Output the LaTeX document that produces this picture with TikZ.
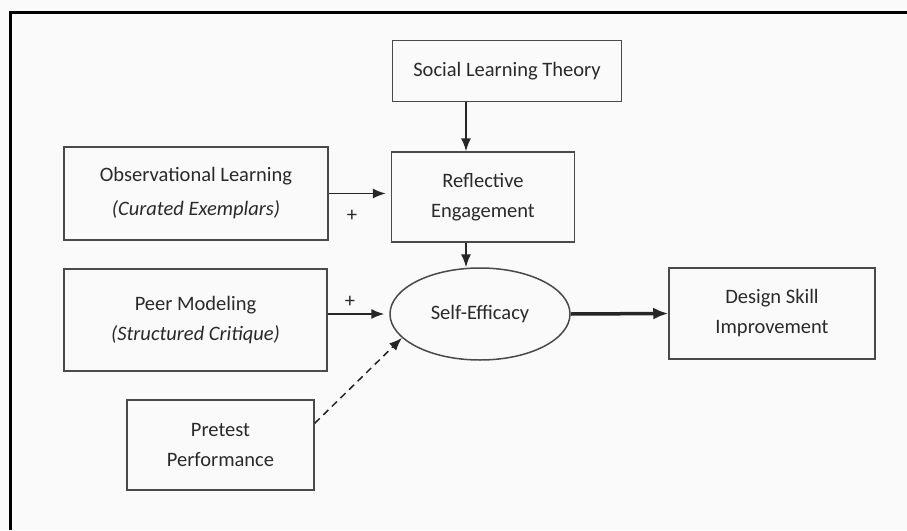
\documentclass[tikz,border=0pt]{standalone}
\usepackage{fontspec}
\setmainfont{Carlito}
\usetikzlibrary{calc,arrows.meta,shapes.geometric}
\definecolor{boxline}{HTML}{4a4a4a}
\definecolor{ink}{HTML}{2a2a2a}

\begin{document}
\begin{tikzpicture}[x=1pt, y=-1pt, line width=1.5pt]
	\tikzstyle{every node}=[text=ink, font=\fontsize{20.5}{30}\selectfont]
	\tikzstyle{box}=[draw=boxline, align=center, inner sep=0]
	\tikzstyle{arr}=[draw=black!85, -{Latex[length=13pt,width=10pt]}]
	\fill[black!2] (0,0) rectangle (907,530);
	\useasboundingbox (0,0) rectangle (907,530);
	\draw[line width=3pt] (10,530) -- (10,12) -- (907,12);
	\coordinate (col) at (466,0);
	\node[box, minimum width=229, minimum height=61] (slt) at (507,71) {Social Learning Theory};
	\node[box, minimum width=183, minimum height=90] (re) at (483,197) {Reflective\\Engagement};
	\node[box, minimum width=264, minimum height=93] (obs) at (196,193.5) {Observational Learning\\[4pt]\textit{(Curated Exemplars)}};
	\node[box, minimum width=263, minimum height=102] (peer) at (195.5,320) {Peer Modeling\\\textit{(Structured Critique)}};
	\node[box, minimum width=187, minimum height=90] (pre) at (220.5,445) {Pretest\\Performance};
	\node[box, ellipse, minimum width=180, minimum height=92] (se) at (480,314) {Self-Efficacy};
	\node[box, minimum width=206, minimum height=91] (dsi) at (772,313.5) {Design Skill\\Improvement};
	\node (plus1) at (352,216) {+};
	\node (plus2) at (350,302) {+};
	\draw[arr] (slt.south -| col) -- (re.north -| col);
	\draw[arr] (re.south -| col) -- (col |- se.north);
	\draw[arr, shorten >=5pt] (obs.east) -- (obs.east -| re.west);
	\draw[arr, shorten >=5pt] (peer.east |- se.west) -- (se.west);
	\draw[arr, dash pattern=on 7pt off 5pt] (pre.13) -- (se.197);
	\draw[arr, line width=3.5pt, -{Latex[length=15pt,width=12pt]}] (se.east) -- (dsi.west);
\end{tikzpicture}
\end{document}
